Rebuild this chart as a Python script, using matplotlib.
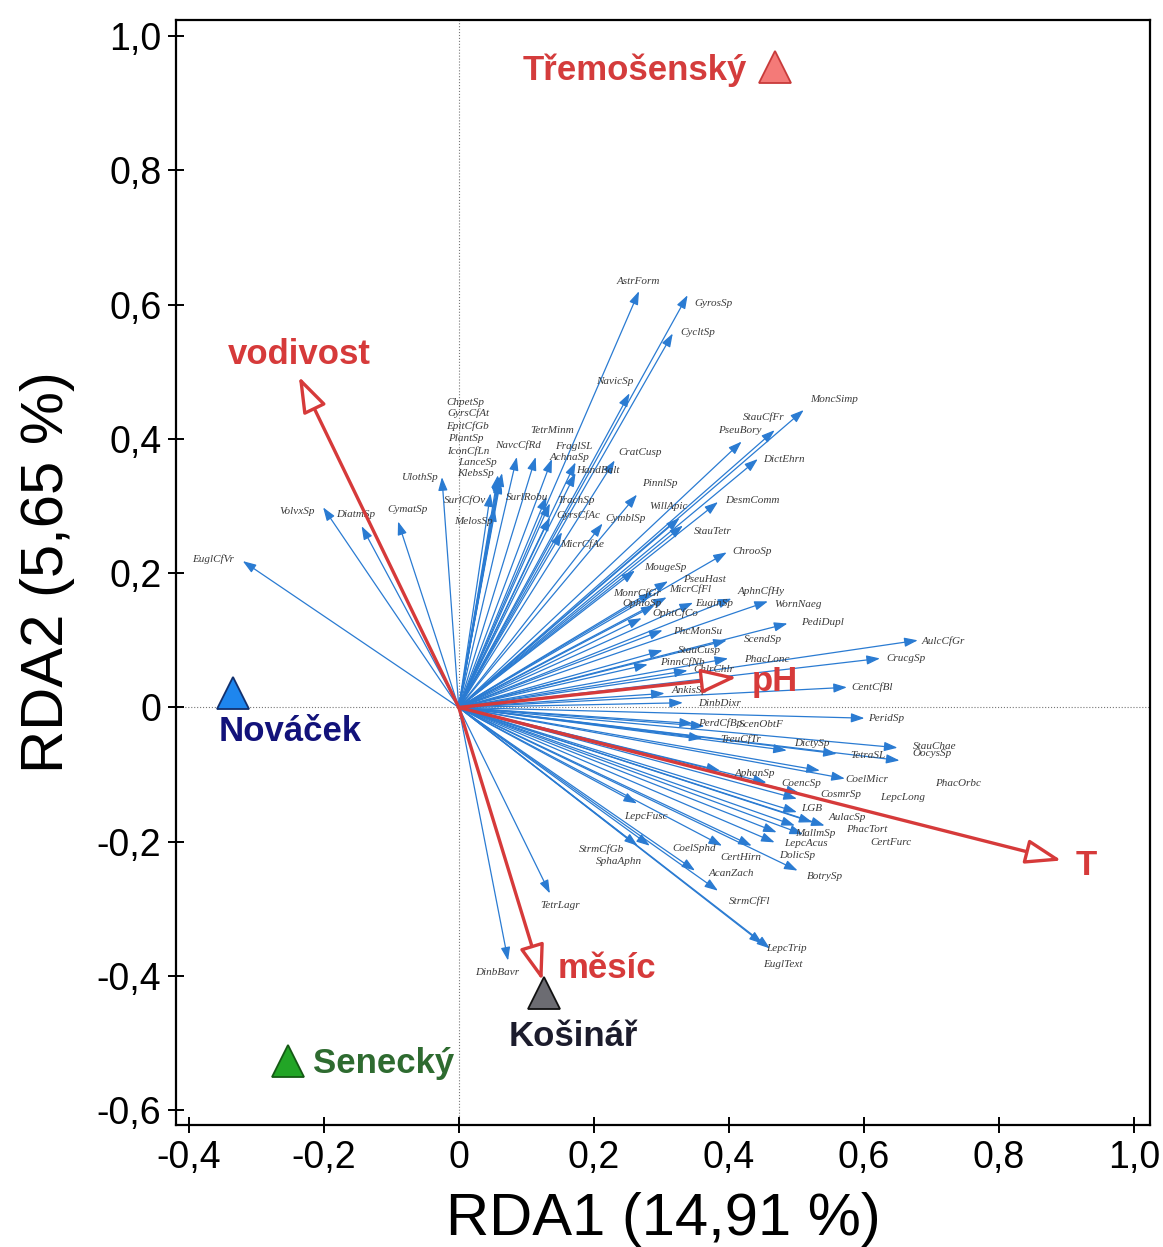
import matplotlib
matplotlib.use("Agg")
import matplotlib.pyplot as plt
from matplotlib.patches import FancyArrowPatch
from matplotlib.ticker import FixedLocator, FuncFormatter

# species scores (RDA1, RDA2)
species = ["AstrForm", "GyrosSp", "CycltSp", "NavicSp", "MoncSimp", "StauCfFr", "PseuBory",
           "DictEhrn", "DesmComm", "WillApic", "StauTetr", "ChrooSp", "PinnlSp", "CymblSp",
           "CratCusp", "AchnaSp", "HandBalt", "FraglSL", "TetrMinm", "NavcCfRd", "ChpetSp",
           "GyrsCfAt", "EpitCfGb", "PlantSp", "IconCfLn", "LanceSp", "KlebsSp", "UlothSp",
           "SurlCfOv", "MelosSp", "SurlRobu", "TrachSp", "GyrsCfAc", "MicrCfAe", "VolvxSp",
           "DiatmSp", "CymatSp", "EuglCfVr", "MougeSp", "PseuHast", "MicrCfFl", "MonrCfGr",
           "AphnCfHy", "OphioSp", "EuginSp", "WornNaeg", "OphtCfCo", "PediDupl", "PhcMonSu",
           "ScendSp", "StauCusp", "PinnCfNb", "PhacLonc", "ChlrChlr", "AnkisSp", "DinbDixr",
           "AulcCfGr", "CrucgSp", "CentCfBl", "PeridSp", "PerdCfBp", "ScenObtF", "TreuCfTr",
           "DictySp", "TetraSL", "StauChae", "OocysSp", "AphanSp", "CoencSp", "CoelMicr",
           "CosmrSp", "LepcLong", "PhacOrbc", "LGB", "AulacSp", "PhacTort", "MallmSp",
           "CertFurc", "LepcAcus", "DolicSp", "BotrySp", "LepcFusc", "CoelSphd", "CertHirn",
           "StrmCfGb", "SphaAphn", "AcanZach", "StrmCfFl", "LepcTrip", "EuglText", "TetrLagr",
           "DinbBavr"]
sp_x = [0.267, 0.339, 0.317, 0.253, 0.511, 0.468, 0.419, 0.443, 0.384, 0.327, 0.332, 0.397,
        0.264, 0.213, 0.231, 0.173, 0.173, 0.138, 0.114, 0.086, 0.059, 0.058, 0.060, 0.061,
        0.061, 0.061, 0.064, -0.025, 0.047, 0.053, 0.130, 0.135, 0.135, 0.153, -0.201, -0.144,
        -0.090, -0.320, 0.261, 0.310, 0.287, 0.308, 0.404, 0.290, 0.347, 0.458, 0.271, 0.487,
        0.302, 0.397, 0.302, 0.280, 0.399, 0.339, 0.305, 0.332, 0.680, 0.624, 0.575, 0.601,
        0.347, 0.364, 0.361, 0.486, 0.560, 0.650, 0.653, 0.387, 0.456, 0.572, 0.501, 0.535,
        0.505, 0.501, 0.542, 0.524, 0.498, 0.510, 0.471, 0.468, 0.502, 0.264, 0.390, 0.434,
        0.265, 0.283, 0.350, 0.384, 0.450, 0.461, 0.135, 0.073]
sp_y = [0.620, 0.614, 0.557, 0.468, 0.443, 0.413, 0.396, 0.370, 0.306, 0.282, 0.271, 0.231,
        0.317, 0.274, 0.368, 0.365, 0.349, 0.370, 0.373, 0.373, 0.344, 0.346, 0.342, 0.341,
        0.340, 0.338, 0.349, 0.343, 0.319, 0.297, 0.314, 0.304, 0.283, 0.261, 0.298, 0.270,
        0.277, 0.218, 0.204, 0.188, 0.171, 0.164, 0.162, 0.152, 0.156, 0.158, 0.133, 0.125,
        0.115, 0.100, 0.085, 0.064, 0.073, 0.055, 0.021, 0.007, 0.100, 0.073, 0.030, -0.016,
        -0.024, -0.028, -0.046, -0.064, -0.069, -0.060, -0.079, -0.094, -0.112, -0.106, -0.136,
        -0.094, -0.128, -0.156, -0.176, -0.171, -0.176, -0.189, -0.186, -0.201, -0.243, -0.143,
        -0.206, -0.206, -0.206, -0.206, -0.243, -0.273, -0.352, -0.359, -0.277, -0.377]

# label offsets from arrow tip (pixels, right / up)
lab_dx = [-1, 26, 25, -15, 30, -11, -2, 26, 34, -11, 30, 25, 23, 23, 25, -6, 22, 22, 16, 1,
          -33, -29, -32, -34, -32, -22, -26, -22, -26, -21, -19, 26, 28, 20, -26, -6, 10, -30,
          30, 36, 38, -30, 30, -12, 21, 30, 34, 35, 35, 36, 37, 35, 39, 26, 25, 37, 26, 26, 25,
          22, 27, 57, 38, 25, 31, 37, 33, 35, 35, 22, 44, 83, 158, 15, 23, 54, 20, 88, 29, 23,
          27, 9, -28, -11, -36, -31, 36, 32, 24, 13, 10, -11]
lab_dy = [10, -8, 1, 12, 11, 13, 11, 0, 2, 12, -6, 1, 11, 5, 8, 5, 3, 13, 27, 12,
          74, 62, 52, 40, 28, 18, 0, 0, -7, -13, -1, 3, 2, -12, -4, 12, 12, 2,
          3, 2, 3, 4, 8, 2, -1, -3, 5, 1, -1, 1, 0, 2, -1, 1, 3, -1, -1, 0, 0,
          0, 0, 2, -1, 7, -2, 1, 7, -3, -1, -1, 4, -27, 10, 4, 8, -7, -8, -8, -11, -13,
          -6, -13, -3, -12, -3, -16, -3, -10, -5, -16, -12, -12]

# environmental variables
env_names = ["vodivost", "pH", "T", "měsíc"]
env_x = [-0.237, 0.412, 0.893, 0.124]
env_y = [0.493, 0.045, -0.228, -0.407]

# sites
sites = ["Třemošenský", "Nováček", "Košinář", "Senecký"]
site_x = [0.468, -0.335, 0.126, -0.253]
site_y = [0.954, 0.022, -0.425, -0.526]

sp_color = "#2a7bd2"
env_color = "#d63a3a"

fig = plt.figure(figsize=(11.63, 12.47), dpi=100)
ax = fig.add_axes([0.1513, 0.0978, 0.8375, 0.8862])
ax.set_xlim(-0.419, 1.024)
ax.set_ylim(-0.622, 1.024)

ax.axhline(0, color="#777777", lw=0.8, ls=":", zorder=1)
ax.axvline(0, color="#777777", lw=0.8, ls=":", zorder=1)

for name, x, y, dx, dy in zip(species, sp_x, sp_y, lab_dx, lab_dy):
    arr = FancyArrowPatch((0, 0), (x, y), arrowstyle="-|>,head_length=0.8,head_width=0.28",
                          mutation_scale=10, color=sp_color, lw=0.9, shrinkA=0, shrinkB=0,
                          zorder=2)
    ax.add_patch(arr)
    ax.annotate(name, (x, y), xytext=(dx, dy), textcoords="offset pixels",
                ha="center", va="center", fontsize=8, style="italic",
                family="Liberation Serif", color="#3a3a3a", zorder=4)

for name, x, y in zip(env_names, env_x, env_y):
    arr = FancyArrowPatch((0, 0), (x, y), arrowstyle="-|>,head_length=1.1,head_width=0.38",
                          mutation_scale=20, fc="white", ec=env_color, lw=2.4,
                          shrinkA=0, shrinkB=0, zorder=5)
    ax.add_patch(arr)

env_lab = {"vodivost": (0, 22), "pH": (38, -4), "T": (25, -5), "měsíc": (64, 12)}
for name, x, y in zip(env_names, env_x, env_y):
    ax.annotate(name, (x, y), xytext=env_lab[name], textcoords="offset pixels",
                ha="center", va="center", fontsize=25, fontweight="bold",
                family="Liberation Sans", color=env_color, zorder=6)

site_face = ["#f47a78", "#1e86ee", "#6c6c72", "#22a526"]
site_edge = ["#c83a3a", "#12306e", "#111111", "#145a14"]
site_text = ["#d43c3c", "#12127a", "#1c1c2c", "#2e6b30"]
site_lab = [(-140, -3), (58, -39), (30, -44), (96, -3)]
for i in range(len(sites)):
    ax.plot(site_x[i], site_y[i], marker="^", ms=23, mfc=site_face[i], mec=site_edge[i],
            mew=1.3, ls="none", zorder=7)
    ax.annotate(sites[i], (site_x[i], site_y[i]), xytext=site_lab[i],
                textcoords="offset pixels", ha="center", va="center", fontsize=25,
                fontweight="bold", family="Liberation Sans", color=site_text[i], zorder=7)

fmt = FuncFormatter(lambda v, p: "0" if abs(v) < 1e-9 else ("%.1f" % v).replace(".", ","))
ax.xaxis.set_major_locator(FixedLocator([-0.4, -0.2, 0, 0.2, 0.4, 0.6, 0.8, 1.0]))
ax.yaxis.set_major_locator(FixedLocator([-0.6, -0.4, -0.2, 0, 0.2, 0.4, 0.6, 0.8, 1.0]))
ax.xaxis.set_major_formatter(fmt)
ax.yaxis.set_major_formatter(fmt)
ax.tick_params(direction="inout", length=11, width=1.4, labelsize=27, pad=5)
for lab in ax.get_xticklabels() + ax.get_yticklabels():
    lab.set_family("Liberation Sans")
for s in ax.spines.values():
    s.set_linewidth(1.6)

ax.set_xlabel("RDA1 (14,91 %)", fontsize=43, family="Liberation Sans", labelpad=12)
ax.set_ylabel("RDA2 (5,65 %)", fontsize=43, family="Liberation Sans", labelpad=16)

fig.savefig("out.png", dpi=100)
